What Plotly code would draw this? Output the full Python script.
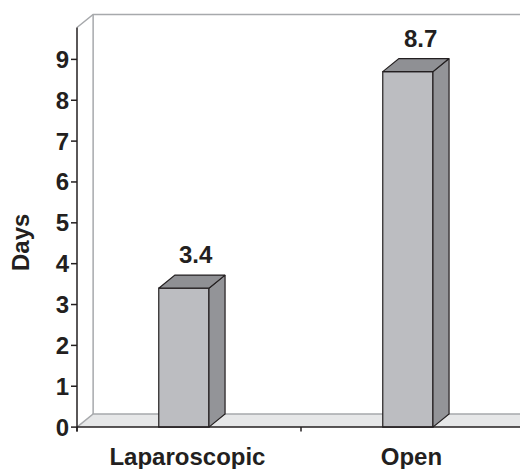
import plotly.graph_objects as go

# Mean length of hospital stay
categories = ["Laparoscopic", "Open"]
days = [3.4, 8.7]
y_tick_values = [0, 1, 2, 3, 4, 5, 6, 7, 8, 9]
value_labels = ["3.4", "8.7"]

# pseudo-3D geometry (axis units)
DX = 0.072      # depth shift along x
DY = 0.32       # depth shift along y
BAR_W = 0.224
BAR_OFF = 0.477
LABEL_OFF = 0.016
Y_TOP = 9.78
X_END = 2.3
TICK_X = 6 / 224
TICK_Y = 0.11

INK = "#231f20"
FRONT = "#bcbdc1"
SIDE = "#939498"
TOP = "#8f9094"
FLOOR = "#e6e7e8"
WALL = "#a7a9ac"
FONT = dict(family="Liberation Sans, Arial, sans-serif", size=24, color=INK, weight="bold")

xs = [i + BAR_OFF for i in range(len(categories))]

fig = go.Figure()

# front faces of the columns
fig.add_bar(
    x=xs, y=days, width=BAR_W,
    marker=dict(color=FRONT, line=dict(color=INK, width=1.2)),
    hoverinfo="skip",
)

# side and top faces
for x, v in zip(xs, days):
    xl, xr = x - BAR_W / 2, x + BAR_W / 2
    fig.add_scatter(
        x=[xr, xr + DX, xr + DX, xr, xr], y=[0, DY, v + DY, v, 0],
        mode="lines", fill="toself", fillcolor=SIDE,
        line=dict(color=INK, width=1.2), hoverinfo="skip",
    )
    fig.add_scatter(
        x=[xl, xr, xr + DX, xl + DX, xl], y=[v, v, v + DY, v + DY, v],
        mode="lines", fill="toself", fillcolor=TOP,
        line=dict(color=INK, width=1.2), hoverinfo="skip",
    )

# axis lines and tick marks
ax_x, ax_y = [0, 0, None, 0, X_END, None], [-TICK_Y, Y_TOP, None, 0, 0, None]
for t in y_tick_values:
    ax_x += [-TICK_X, 0, None]
    ax_y += [t, t, None]
for b in range(len(categories)):
    ax_x += [b, b, None]
    ax_y += [0, -TICK_Y, None]
fig.add_scatter(x=ax_x, y=ax_y, mode="lines",
                line=dict(color=INK, width=1.5), hoverinfo="skip")

# value labels above the columns
for x, v, txt in zip(xs, days, value_labels):
    fig.add_annotation(x=x + DX / 2 + 0.02, y=v + DY, text=txt, showarrow=False,
                       xanchor="center", yanchor="bottom", yshift=5, font=FONT)

# y-axis title
fig.add_annotation(xref="paper", yref="paper", x=-0.111, y=0.45, text="Days",
                   textangle=-90, showarrow=False, xanchor="center",
                   yanchor="middle", font=FONT)

# floor and walls
shapes = [
    dict(type="path", layer="below", xref="x", yref="y",
         path=f"M 0,0 L {X_END},0 L {X_END + DX},{DY} L {DX},{DY} Z",
         fillcolor=FLOOR, line=dict(width=0)),
    dict(type="path", layer="below", xref="x", yref="y",
         path=f"M 0,0 L {DX},{DY} L {X_END + DX},{DY}",
         line=dict(color=WALL, width=1.5)),
    dict(type="path", layer="below", xref="x", yref="y",
         path=f"M 0,{Y_TOP} L {DX},{Y_TOP + DY} L {X_END + DX},{Y_TOP + DY}",
         line=dict(color=WALL, width=1.5)),
    dict(type="line", layer="below", xref="x", yref="y",
         x0=DX, y0=DY, x1=DX, y1=Y_TOP + DY,
         line=dict(color=WALL, width=1.5)),
]

fig.update_layout(
    width=520, height=469,
    margin=dict(l=70, r=0, t=12, b=37),
    paper_bgcolor="white", plot_bgcolor="white",
    showlegend=False,
    shapes=shapes,
    xaxis=dict(range=[-7 / 224, -7 / 224 + 450 / 224],
               tickvals=[x + LABEL_OFF for x in xs], ticktext=categories,
               showgrid=False, zeroline=False, showline=False, ticks="",
               ticklabelstandoff=8, tickfont=FONT, fixedrange=True),
    yaxis=dict(range=[-0.12, 10.16], tickvals=y_tick_values,
               showgrid=False, zeroline=False, showline=False, ticks="",
               tickfont=FONT, fixedrange=True),
)

fig.write_html("out.html")
